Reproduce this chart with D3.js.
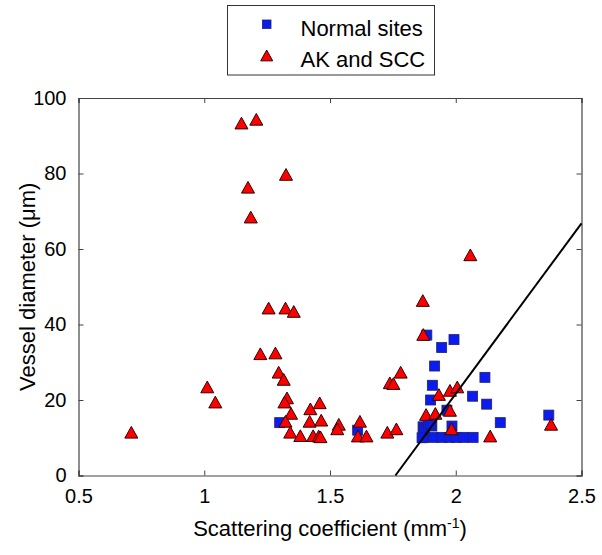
<!DOCTYPE html>
<html lang="en">
<head>
<meta charset="UTF-8">
<title>Vessel diameter vs scattering coefficient</title>
<script src="https://d3js.org/d3.v7.min.js"></script>
<style>
  body { margin: 0; background: #fff; font-family: "Liberation Sans", Arial, sans-serif; }
  svg text { fill: #000; }
</style>
</head>
<body>
<div id="chart"></div>
<script>
// Normal sites (blue squares): [scattering coefficient, vessel diameter]
const normalSites = [
  [1.30, 14.0], [1.61, 12.0], [1.885, 37.2], [1.944, 33.9], [1.993, 36.0],
  [1.916, 29.0], [1.907, 23.9], [1.90, 20.0], [2.116, 26.0], [2.067, 21.0],
  [2.123, 18.9], [1.965, 17.3], [2.177, 14.0], [2.37, 16.0], [1.985, 13.1],
  [1.872, 10.1], [1.912, 10.1], [1.945, 10.1], [1.975, 10.1], [2.002, 10.1],
  [2.031, 10.1], [2.069, 10.1], [1.87, 12.9], [1.876, 12.0], [1.866, 10.0],
  [1.89, 13.4], [1.905, 13.1], [1.90, 13.8]
];

// AK and SCC (red triangles)
const akScc = [
  [0.71, 11.3], [1.012, 23.3], [1.044, 19.3], [1.148, 93.2], [1.207, 94.2],
  [1.174, 76.2], [1.185, 68.3], [1.325, 79.6], [1.223, 32.1], [1.256, 44.2],
  [1.283, 32.3], [1.323, 44.2], [1.356, 43.3], [1.296, 27.2], [1.316, 25.3],
  [1.329, 20.4], [1.319, 19.3], [1.345, 16.3], [1.323, 14.2], [1.342, 11.3],
  [1.382, 10.4], [1.422, 17.5], [1.459, 19.1], [1.419, 14.2], [1.465, 14.5],
  [1.433, 10.4], [1.455, 10.3], [1.462, 10.1], [1.535, 13.4], [1.529, 12.2],
  [1.619, 14.2], [1.611, 10.3], [1.645, 10.3], [1.728, 11.3], [1.764, 12.2],
  [1.738, 24.4], [1.752, 24.2], [1.781, 27.2], [1.869, 46.2], [1.871, 37.2],
  [1.882, 16.0], [1.919, 16.3], [1.977, 17.1], [1.933, 21.3], [1.977, 22.4],
  [2.006, 23.3], [2.058, 58.3], [1.983, 12.2], [2.137, 10.3], [2.379, 13.4]
];

// decision line endpoints
const lineX = [1.76, 2.5];
const lineY = [0, 66.8];

const xTicks = [0.5, 1, 1.5, 2, 2.5];
const yTicks = [0, 20, 40, 60, 80, 100];
const legendLabels = ["Normal sites", "AK and SCC"];

const width = 602, height = 555;
const margin = { top: 98, right: 20.5, bottom: 79.5, left: 78.5 };
const innerW = width - margin.left - margin.right;
const innerH = height - margin.top - margin.bottom;

const svg = d3.select("#chart").append("svg")
  .attr("width", width)
  .attr("height", height);

const x = d3.scaleLinear().domain([0.5, 2.5]).range([margin.left, margin.left + innerW]);
const y = d3.scaleLinear().domain([0, 100]).range([margin.top + innerH, margin.top]);

// axes (ticks drawn inward, box on all sides)
const axisColor = "#444";
const tickLen = 5;

const gx = svg.append("g")
  .attr("transform", `translate(0,${margin.top + innerH})`)
  .call(d3.axisBottom(x).tickValues(xTicks).tickSize(-tickLen).tickPadding(12)
    .tickFormat(d3.format("")));
const gxTop = svg.append("g")
  .attr("transform", `translate(0,${margin.top})`)
  .call(d3.axisTop(x).tickValues(xTicks).tickSize(-tickLen).tickFormat(""));
const gy = svg.append("g")
  .attr("transform", `translate(${margin.left},0)`)
  .call(d3.axisLeft(y).tickValues(yTicks).tickSize(-tickLen).tickPadding(12));
const gyRight = svg.append("g")
  .attr("transform", `translate(${margin.left + innerW},0)`)
  .call(d3.axisRight(y).tickValues(yTicks).tickSize(-tickLen).tickFormat(""));

[gx, gxTop, gy, gyRight].forEach(g => {
  g.select(".domain").attr("stroke", axisColor).attr("stroke-width", 1.2);
  g.selectAll(".tick line").attr("stroke", axisColor);
  g.selectAll("text")
    .attr("font-family", "'Liberation Sans', Arial, sans-serif")
    .attr("font-size", 20)
    .attr("fill", "#000");
});
gx.selectAll("text").attr("dy", "0.75em");

// axis labels
const xl = svg.append("text")
  .attr("x", margin.left + innerW / 2)
  .attr("y", 536)
  .attr("text-anchor", "middle")
  .attr("font-size", 22);
xl.append("tspan").text("Scattering coefficient (mm");
xl.append("tspan").attr("dy", -8).attr("font-size", 14).text("-1");
xl.append("tspan").attr("dy", 8).text(")");

svg.append("text")
  .attr("transform", `translate(35,${margin.top + innerH / 2}) rotate(-90)`)
  .attr("text-anchor", "middle")
  .attr("font-size", 22)
  .text("Vessel diameter (\u03bcm)");

// marker shapes
const triangle = (cx, cy, s) => {
  const h = s * 0.9;
  return `M${cx},${cy - h * 0.55} L${cx + s / 2},${cy + h * 0.45} L${cx - s / 2},${cy + h * 0.45} Z`;
};

const plot = svg.append("g");

plot.selectAll("rect.normal")
  .data(normalSites)
  .join("rect")
  .attr("class", "normal")
  .attr("x", d => x(d[0]) - 5)
  .attr("y", d => y(d[1]) - 5)
  .attr("width", 10)
  .attr("height", 10)
  .attr("fill", "#0a1cf0")
  .attr("stroke", "#222266")
  .attr("stroke-width", 0.8);

plot.selectAll("path.ak")
  .data(akScc)
  .join("path")
  .attr("class", "ak")
  .attr("d", d => triangle(x(d[0]), y(d[1]), 13))
  .attr("fill", "#ff0000")
  .attr("stroke", "#300")
  .attr("stroke-width", 1);

// decision line
svg.append("line")
  .attr("x1", x(lineX[0])).attr("y1", y(lineY[0]))
  .attr("x2", x(lineX[1])).attr("y2", y(lineY[1]))
  .attr("stroke", "#000")
  .attr("stroke-width", 2);

// legend
const legend = svg.append("g");
legend.append("rect")
  .attr("x", 227.5).attr("y", 5.5)
  .attr("width", 207).attr("height", 69.5)
  .attr("fill", "#fff")
  .attr("stroke", "#333")
  .attr("stroke-width", 1);

legend.append("rect")
  .attr("x", 262.5).attr("y", 20)
  .attr("width", 8.5).attr("height", 8.5)
  .attr("fill", "#0a1cf0")
  .attr("stroke", "#222266")
  .attr("stroke-width", 0.8);
legend.append("path")
  .attr("d", triangle(266.7, 56, 12))
  .attr("fill", "#ff0000")
  .attr("stroke", "#300")
  .attr("stroke-width", 1);

legend.selectAll("text.lbl")
  .data(legendLabels)
  .join("text")
  .attr("class", "lbl")
  .attr("x", 300.5)
  .attr("y", (d, i) => 35.5 + i * 31.5)
  .attr("font-size", 22)
  .text(d => d);
</script>
</body>
</html>
